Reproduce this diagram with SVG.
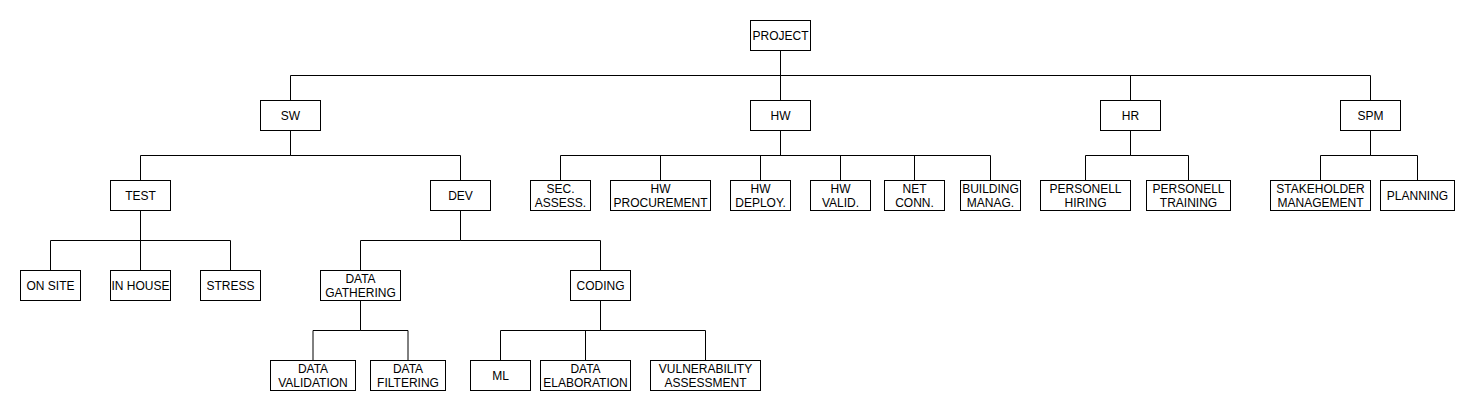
<svg xmlns="http://www.w3.org/2000/svg" width="1475" height="412" viewBox="0 0 1475 412">
<style>
.n rect{fill:#fff;stroke:#000;stroke-width:1}
.n text{font-family:"Liberation Sans",Arial,Helvetica,sans-serif;font-size:12px;fill:#000;text-anchor:middle}
.c path{fill:none;stroke:#000;stroke-width:1}
</style>
<rect x="0" y="0" width="1475" height="412" fill="#fff"/>
<g transform="translate(0.5,0.5)">
<g id="connectors" class="c">
<path d="M780 50V100"/>
<path d="M780 50V75H290V100"/>
<path d="M780 50V75H1130V100"/>
<path d="M780 50V75H1370V100"/>
<path d="M290 130V155H140V180"/>
<path d="M290 130V155H460V180"/>
<path d="M140 210V240H50V270"/>
<path d="M140 210V270"/>
<path d="M140 210V240H230V270"/>
<path d="M460 210V240H360V270"/>
<path d="M460 210V240H600V270"/>
<path d="M360 300V330H312.5V360"/>
<path d="M360 300V330H407.5V360"/>
<path d="M600 300V330H500V360"/>
<path d="M600 300V330H585V360"/>
<path d="M600 300V330H705V360"/>
<path d="M780 130V155H560V180"/>
<path d="M780 130V155H660V180"/>
<path d="M780 130V155H760V180"/>
<path d="M780 130V155H840V180"/>
<path d="M780 130V155H914V180"/>
<path d="M780 130V155H990V180"/>
<path d="M1130 130V155H1085V180"/>
<path d="M1130 130V155H1188V180"/>
<path d="M1370 130V155H1320V180"/>
<path d="M1370 130V155H1417V180"/>
</g>
<g id="project" class="n"><rect x="750" y="20" width="60" height="30"/><text x="780" y="39">PROJECT</text></g>
<g id="sw" class="n"><rect x="260" y="100" width="60" height="30"/><text x="290" y="119">SW</text></g>
<g id="hw" class="n"><rect x="750" y="100" width="60" height="30"/><text x="780" y="119">HW</text></g>
<g id="hr" class="n"><rect x="1100" y="100" width="60" height="30"/><text x="1130" y="119">HR</text></g>
<g id="spm" class="n"><rect x="1340" y="100" width="60" height="30"/><text x="1370" y="119">SPM</text></g>
<g id="test" class="n"><rect x="110" y="180" width="60" height="30"/><text x="140" y="199">TEST</text></g>
<g id="dev" class="n"><rect x="430" y="180" width="60" height="30"/><text x="460" y="199">DEV</text></g>
<g id="onsite" class="n"><rect x="20" y="270" width="60" height="30"/><text x="50" y="289">ON SITE</text></g>
<g id="inhouse" class="n"><rect x="110" y="270" width="60" height="30"/><text x="140" y="289">IN HOUSE</text></g>
<g id="stress" class="n"><rect x="200" y="270" width="60" height="30"/><text x="230" y="289">STRESS</text></g>
<g id="datagathering" class="n"><rect x="320" y="270" width="80" height="30"/><text x="360" y="282">DATA</text><text x="360" y="296.5">GATHERING</text></g>
<g id="coding" class="n"><rect x="570" y="270" width="60" height="30"/><text x="600" y="289">CODING</text></g>
<g id="datavalidation" class="n"><rect x="270" y="360" width="85" height="30"/><text x="312.5" y="372">DATA</text><text x="312.5" y="386.5">VALIDATION</text></g>
<g id="datafiltering" class="n"><rect x="370" y="360" width="75" height="30"/><text x="407.5" y="372">DATA</text><text x="407.5" y="386.5">FILTERING</text></g>
<g id="ml" class="n"><rect x="470" y="360" width="60" height="30"/><text x="500" y="379">ML</text></g>
<g id="dataelaboration" class="n"><rect x="540" y="360" width="90" height="30"/><text x="585" y="372">DATA</text><text x="585" y="386.5">ELABORATION</text></g>
<g id="vulnassessment" class="n"><rect x="650" y="360" width="110" height="30"/><text x="705" y="372">VULNERABILITY</text><text x="705" y="386.5">ASSESSMENT</text></g>
<g id="secassess" class="n"><rect x="530" y="180" width="60" height="30"/><text x="560" y="192">SEC.</text><text x="560" y="206.5">ASSESS.</text></g>
<g id="hwprocurement" class="n"><rect x="610" y="180" width="100" height="30"/><text x="660" y="192">HW</text><text x="660" y="206.5">PROCUREMENT</text></g>
<g id="hwdeploy" class="n"><rect x="730" y="180" width="60" height="30"/><text x="760" y="192">HW</text><text x="760" y="206.5">DEPLOY.</text></g>
<g id="hwvalid" class="n"><rect x="810" y="180" width="60" height="30"/><text x="840" y="192">HW</text><text x="840" y="206.5">VALID.</text></g>
<g id="netconn" class="n"><rect x="884" y="180" width="60" height="30"/><text x="914" y="192">NET</text><text x="914" y="206.5">CONN.</text></g>
<g id="buildingmanag" class="n"><rect x="960" y="180" width="60" height="30"/><text x="990" y="192">BUILDING</text><text x="990" y="206.5">MANAG.</text></g>
<g id="personellhiring" class="n"><rect x="1040" y="180" width="90" height="30"/><text x="1085" y="192">PERSONELL</text><text x="1085" y="206.5">HIRING</text></g>
<g id="personelltraining" class="n"><rect x="1146" y="180" width="84" height="30"/><text x="1188" y="192">PERSONELL</text><text x="1188" y="206.5">TRAINING</text></g>
<g id="stakeholder" class="n"><rect x="1270" y="180" width="100" height="30"/><text x="1320" y="192">STAKEHOLDER</text><text x="1320" y="206.5">MANAGEMENT</text></g>
<g id="planning" class="n"><rect x="1380" y="180" width="74" height="30"/><text x="1417" y="199">PLANNING</text></g>
</g>
</svg>
